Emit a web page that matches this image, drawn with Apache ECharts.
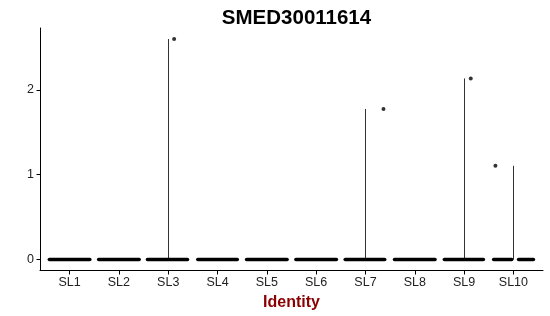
<!DOCTYPE html>
<html>
<head>
<meta charset="utf-8">
<script src="https://cdn.jsdelivr.net/npm/echarts@6/dist/echarts.min.js"></script>
<style>
html,body{margin:0;padding:0;background:#fff;}
#chart{width:550px;height:316px;}
</style>
</head>
<body>
<div id="chart"></div>
<script>
// ---- data ----
var categories = ['SL1','SL2','SL3','SL4','SL5','SL6','SL7','SL8','SL9','SL10'];
// violin extent (max expression) per category
var violinMax = [0, 0, 2.6, 0, 0, 0, 1.775, 0, 2.135, 1.105];
// clusters of jittered zero-valued cells: [category number, left offset, right offset]
var zeroSpans = [
  [1, -0.41, 0.41], [2, -0.41, 0.41], [3, -0.42, 0.39], [4, -0.40, 0.40],
  [5, -0.41, 0.41], [6, -0.41, 0.41], [7, -0.41, 0.39], [8, -0.41, 0.41],
  [9, -0.40, 0.39], [10, -0.40, -0.035], [10, 0.105, 0.405]
];
// non-zero cells: category number, jitter offset, value
var pointCat = [3, 7, 9, 10];
var pointJitter = [0.12, 0.365, 0.135, -0.365];
var pointValue = [2.6, 1.775, 2.135, 1.105];
var yTicks = [0, 1, 2];

var catPos = categories.map(function (c, i) { return i + 1; });

var violinData = [];
violinMax.forEach(function (v, i) { if (v > 0) violinData.push([i + 1, v]); });

var pointData = pointCat.map(function (c, i) { return [c + pointJitter[i], pointValue[i]]; });

var chart = echarts.init(document.getElementById('chart'));
var FONT = '"Liberation Sans", Arial, Helvetica, sans-serif';

chart.setOption({
  animation: false,
  title: {
    text: 'SMED30011614',
    left: 291.5,
    top: 3,
    textAlign: 'center',
    textStyle: { fontFamily: FONT, fontWeight: 'bold', fontSize: 20.5, color: '#000' }
  },
  grid: { left: 40, right: 7, top: 28, bottom: 45.5, containLabel: false },
  xAxis: {
    type: 'value',
    min: 0.4,
    max: 10.6,
    name: 'Identity',
    nameLocation: 'middle',
    nameGap: 19,
    nameTextStyle: { fontFamily: FONT, fontWeight: 'bold', fontSize: 16, color: '#8B0000' },
    splitLine: { show: false },
    axisLine: { show: true, onZero: false, lineStyle: { color: '#000', width: 1 } },
    axisTick: { show: true, length: 4, customValues: catPos, lineStyle: { color: '#000' } },
    axisLabel: {
      customValues: catPos,
      margin: 6,
      fontFamily: FONT, fontSize: 12.5, color: '#222',
      formatter: function (v) { return categories[Math.round(v) - 1] || ''; }
    }
  },
  yAxis: {
    type: 'value',
    min: -0.13,
    max: 2.73,
    splitLine: { show: false },
    axisLine: { show: true, onZero: false, lineStyle: { color: '#000', width: 1 } },
    axisTick: { show: true, length: 3.5, customValues: yTicks, lineStyle: { color: '#000' } },
    axisLabel: {
      customValues: yTicks,
      margin: 6,
      fontFamily: FONT, fontSize: 12.5, color: '#222'
    }
  },
  series: [
    {
      type: 'custom',
      name: 'violin',
      data: violinData,
      renderItem: function (params, api) {
        var x = api.value(0), v = api.value(1);
        var p0 = api.coord([x, 0]);
        var p1 = api.coord([x, v]);
        var xx = Math.round(p0[0]) + 0.5;
        return {
          type: 'line',
          shape: { x1: xx, y1: p0[1], x2: xx, y2: p1[1] },
          style: { stroke: '#333', lineWidth: 1 }
        };
      },
      z: 2
    },
    {
      type: 'custom',
      name: 'zeros',
      data: zeroSpans,
      renderItem: function (params, api) {
        var c = api.value(0), a = api.value(1), b = api.value(2);
        var p0 = api.coord([c + a, 0]);
        var p1 = api.coord([c + b, 0]);
        return {
          type: 'line',
          shape: { x1: p0[0], y1: p0[1], x2: p1[0], y2: p1[1] },
          style: { stroke: '#000', lineWidth: 3.6, lineCap: 'round' }
        };
      },
      z: 3
    },
    {
      type: 'scatter',
      name: 'cells',
      data: pointData,
      symbol: 'circle',
      symbolSize: 4,
      itemStyle: { color: '#000' },
      z: 4
    }
  ]
});
</script>
</body>
</html>
